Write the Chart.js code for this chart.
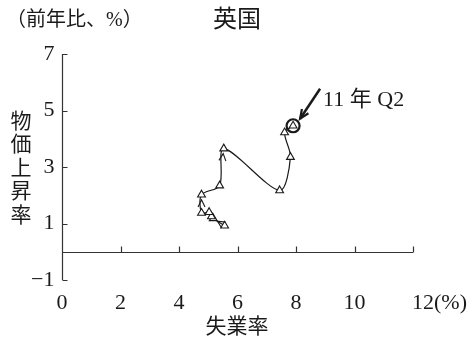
<!DOCTYPE html>
<html lang="ja">
<head>
    <meta charset="UTF-8">
    <title>英国</title>
    <script src="https://cdn.jsdelivr.net/npm/chart.js"></script>
    <style>
        body { margin: 0; background: #fff; }
        #chart { display: block; }
    </style>
</head>
<body>
    <canvas id="chart" width="471" height="341"></canvas>

    <script>
        // unemployment rate (%) / consumer prices (yoy %), in time order
        const unemployment = [5.56, 5.17, 5.11, 5.03, 4.77, 4.77, 5.39, 5.53, 7.44, 7.81, 7.61, 7.90];
        const inflation    = [0.92, 1.18, 1.25, 1.40, 1.37, 2.02, 2.34, 3.65, 2.17, 3.35, 4.22, 4.46];
        const arrowAt = [1, 5, 7];          // segments that carry a direction mark
        const xTicks = [0, 2, 4, 6, 8, 10, 12];
        const yTicks = [7, 5, 3, 1, -1];
        const lastLabel = '11 年 Q2';

        const NUM = "'Liberation Serif', 'Noto Sans CJK JP', serif";
        const INK = '#1a1a1a';

        const points = unemployment.map((x, i) => ({ x: x, y: inflation[i] }));

        function arrowHead(ctx, x, y, ang, len, spread) {
            ctx.beginPath();
            ctx.moveTo(x - len * Math.cos(ang - spread), y - len * Math.sin(ang - spread));
            ctx.lineTo(x, y);
            ctx.lineTo(x - len * Math.cos(ang + spread), y - len * Math.sin(ang + spread));
            ctx.stroke();
        }

        const decor = {
            id: 'decor',
            beforeDatasetsDraw(chart) {
                const ctx = chart.ctx;
                const xs = chart.scales.x, ys = chart.scales.y;
                const x0 = Math.round(xs.getPixelForValue(0)) + 0.5;
                const yZero = Math.round(ys.getPixelForValue(0)) + 0.5;
                ctx.save();
                ctx.strokeStyle = '#333';
                ctx.lineWidth = 1.2;
                // y axis with inward ticks
                ctx.beginPath();
                ctx.moveTo(x0, ys.getPixelForValue(7));
                ctx.lineTo(x0, ys.getPixelForValue(-1));
                yTicks.forEach(v => {
                    const py = Math.round(ys.getPixelForValue(v)) + 0.5;
                    ctx.moveTo(x0, py);
                    ctx.lineTo(x0 + 5, py);
                });
                // x axis at zero with upward ticks
                ctx.moveTo(x0, yZero);
                ctx.lineTo(xs.getPixelForValue(12), yZero);
                xTicks.slice(1).forEach(v => {
                    const px = Math.round(xs.getPixelForValue(v)) + 0.5;
                    ctx.moveTo(px, yZero);
                    ctx.lineTo(px, yZero - 6);
                });
                ctx.stroke();

                ctx.fillStyle = INK;
                ctx.font = '22px ' + NUM;
                ctx.textBaseline = 'middle';
                ctx.textAlign = 'right';
                yTicks.forEach(v => {
                    const t = v < 0 ? '\u2212' + Math.abs(v) : String(v);
                    ctx.fillText(t, x0 - 8, ys.getPixelForValue(v));
                });
                ctx.textAlign = 'center';
                xTicks.forEach(v => {
                    const px = xs.getPixelForValue(v);
                    if (v === 12) {
                        ctx.textAlign = 'left';
                        ctx.fillText('12(%)', px - 1, 303);
                    } else {
                        ctx.fillText(String(v), px, 303);
                    }
                });

                // titles
                ctx.textAlign = 'left';
                ctx.font = '20px ' + NUM;
                ctx.fillText('（前年比、%）', 6, 21);
                ctx.font = '24px ' + NUM;
                ctx.fillText('英国', 213, 21);
                ctx.textAlign = 'center';
                ctx.font = '21px ' + NUM;
                ctx.fillText('失業率', 237, 327);
                '物価上昇率'.split('').forEach((ch, i) => {
                    ctx.fillText(ch, 21, 122 + i * 23.5);
                });
                ctx.restore();
            },
            afterDatasetsDraw(chart) {
                const ctx = chart.ctx;
                const meta = chart.getDatasetMeta(0).data;
                ctx.save();
                ctx.strokeStyle = INK;
                ctx.lineWidth = 1.1;
                arrowAt.forEach(i => {
                    const a = meta[i - 1], b = meta[i];
                    const ang = Math.atan2(b.y - a.y, b.x - a.x);
                    const tx = b.x - 5 * Math.cos(ang), ty = b.y - 5 * Math.sin(ang);
                    arrowHead(ctx, tx, ty, ang, 8, 0.45);
                });
                // ring on the last point and the pointer
                const k = meta[meta.length - 1];
                ctx.lineWidth = 2.2;
                ctx.beginPath();
                ctx.arc(k.x, k.y, 6.5, 0, Math.PI * 2);
                ctx.stroke();
                const tipX = k.x + 7, tipY = k.y - 7;
                ctx.lineWidth = 2.5;
                ctx.beginPath();
                ctx.moveTo(k.x + 27, k.y - 37);
                ctx.lineTo(tipX, tipY);
                ctx.stroke();
                ctx.lineWidth = 2.2;
                arrowHead(ctx, tipX, tipY, Math.atan2(30, -20), 10, 0.4);
                ctx.fillStyle = INK;
                ctx.font = '22px ' + NUM;
                ctx.textAlign = 'left';
                ctx.textBaseline = 'middle';
                ctx.fillText(lastLabel, k.x + 30, k.y - 26);
                ctx.restore();
            }
        };

        new Chart(document.getElementById('chart'), {
            type: 'scatter',
            data: {
                datasets: [{
                    data: points,
                    showLine: true,
                    tension: 0.3,
                    borderColor: INK,
                    borderWidth: 1.2,
                    pointStyle: 'triangle',
                    pointRadius: 4.5,
                    pointBorderWidth: 1.1,
                    pointBackgroundColor: '#fff',
                    pointBorderColor: INK,
                }],
            },
            options: {
                responsive: false,
                animation: false,
                devicePixelRatio: 1,
                layout: { padding: { left: 62, right: 58, top: 54, bottom: 61 } },
                plugins: { legend: { display: false }, tooltip: { enabled: false } },
                scales: {
                    x: { display: false, min: 0, max: 12 },
                    y: { display: false, min: -1, max: 7 },
                },
            },
            plugins: [decor],
        });
    </script>
</body>
</html>
